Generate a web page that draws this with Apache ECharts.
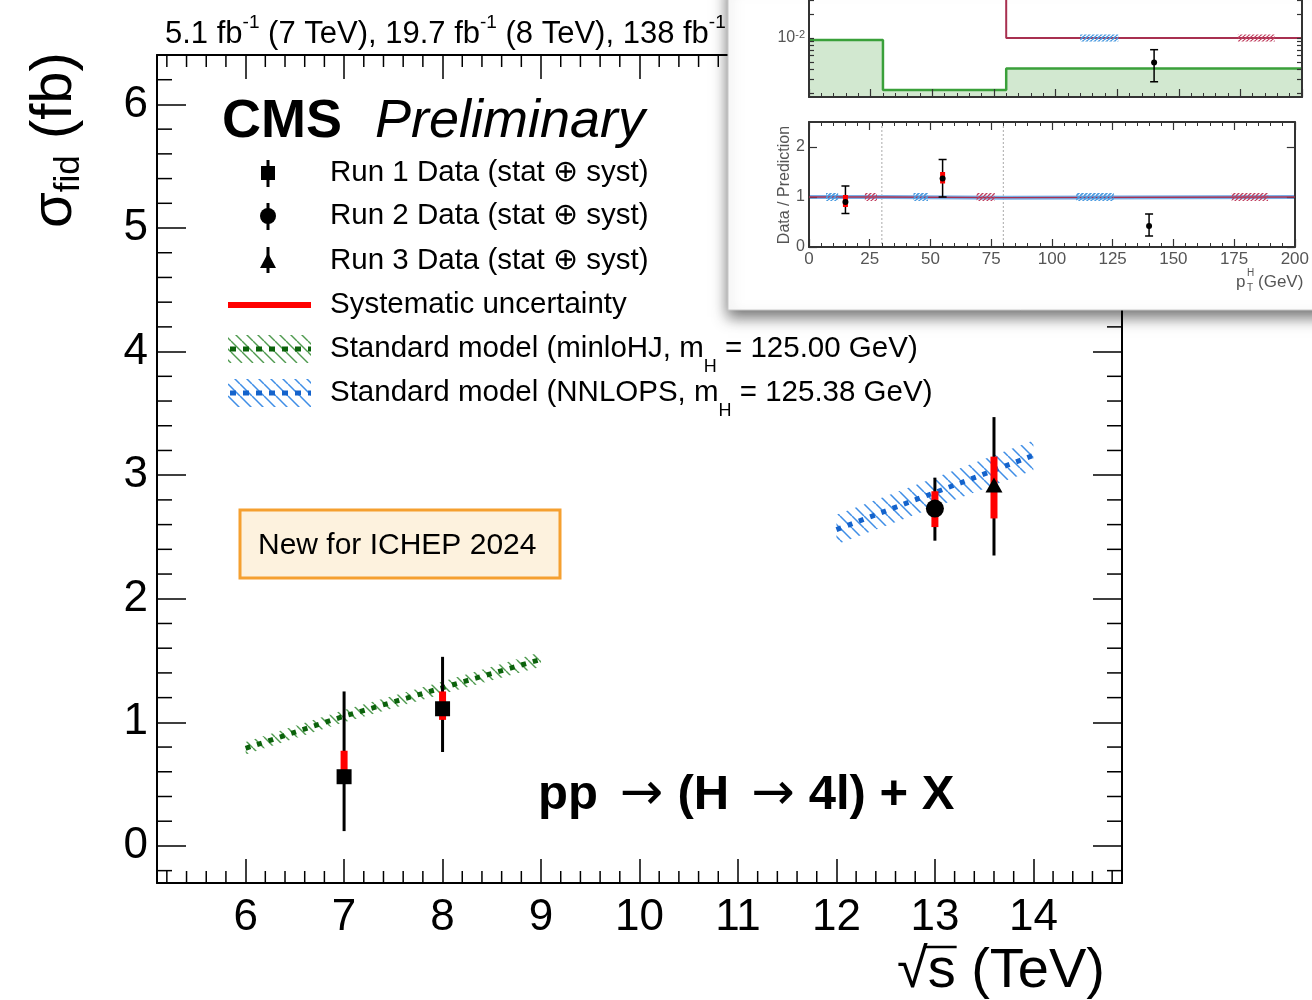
<!DOCTYPE html>
<html><head><meta charset="utf-8">
<script src="https://cdn.jsdelivr.net/npm/echarts@6/dist/echarts.min.js"></script>
<style>html,body{margin:0;padding:0;background:#fff}#c{width:1312px;height:1000px}</style>
</head><body><div id="c"></div>
<script>
// ---------------- data ----------------
const xTickValues = [6, 7, 8, 9, 10, 11, 12, 13, 14];
const yTickValues = [0, 1, 2, 3, 4, 5, 6];

const run1Energy = [7.0, 8.0];
const run1Xsec = [0.56, 1.11];
const run1TotLow = [0.12, 0.76];
const run1TotHigh = [1.25, 1.53];
const run1SysLow = [0.52, 1.02];
const run1SysHigh = [0.77, 1.25];

const run2Energy = [13.0];
const run2Xsec = [2.73];
const run2TotLow = [2.47];
const run2TotHigh = [2.98];
const run2SysLow = [2.58];
const run2SysHigh = [2.87];

const run3Energy = [13.6];
const run3Xsec = [2.92];
const run3TotLow = [2.35];
const run3TotHigh = [3.47];
const run3SysLow = [2.65];
const run3SysHigh = [3.15];

const minloEnergy = [6, 7, 8, 9];
const minloXsec = [0.79, 1.05, 1.28, 1.51];
const minloUnc = [0.05, 0.05, 0.05, 0.06];

const nnlopsEnergy = [12, 13, 14];
const nnlopsXsec = [2.56, 2.86, 3.16];
const nnlopsUnc = [0.12, 0.12, 0.12];

// inset (pT^H differential plot)
const insetBinEdges = [0, 30, 80, 200];
const insetPredGreen = [0.0094, 0.0022, 0.0041];
const insetPredRed = [0.05, 0.05, 0.0100];
const insetPtX = [140];
const insetPtY = [0.0049];
const insetPtLow = [0.0028];
const insetPtHigh = [0.0071];
const insetLogTicks = [0.002, 0.003, 0.004, 0.005, 0.006, 0.007, 0.008, 0.009, 0.01, 0.02, 0.03];
const ratioPtX = [15, 55, 140];
const ratioPtY = [0.90, 1.37, 0.42];
const ratioTotLow = [0.67, 1.00, 0.22];
const ratioTotHigh = [1.22, 1.75, 0.66];
const ratioSysLow = [0.80, 1.27, null];
const ratioSysHigh = [1.04, 1.50, null];
const ratioPred = [1.0, 0.986, 1.0];
const ratioYTicks = [0, 1, 2];
const blueHatchBins = [[7, 12], [43, 49], [110, 125.5]];
const redHatchBins = [[23, 28], [69, 76.5], [174, 189]];

// ---------------- helpers ----------------
const FONT = '"Liberation Sans", Arial, Helvetica, sans-serif';
const X_MIN = 5.1, X_MAX = 14.9, Y_MIN = -0.3, Y_MAX = 6.4;

function hatch(color, size, lw, dir) {
  const c = document.createElement('canvas');
  c.width = size; c.height = size;
  const g = c.getContext('2d');
  g.strokeStyle = color; g.lineWidth = lw;
  g.beginPath();
  for (let k = -1; k <= 1; k++) {
    if (dir === 'back') { g.moveTo(0, k * size); g.lineTo(size, size + k * size); }
    else { g.moveTo(0, size + k * size); g.lineTo(size, k * size); }
  }
  g.stroke();
  return { image: c, repeat: 'repeat' };
}
const greenHatch = hatch('#4f9a4f', 11, 1.4, 'back');
const blueHatch = hatch('#3f8ee6', 12, 1.5, 'back');
const insetBlueHatch = hatch('#4a9ae0', 4, 1.6, 'fwd');
const insetRedHatch = hatch('#c04060', 4, 1.4, 'fwd');

const minorX = [], minorY = [];
for (let i = 52; i <= 148; i += 2) if (i % 10 !== 0) minorX.push([i / 10, 0]);
for (let i = -2; i <= 64; i += 2) if (i % 10 !== 0) minorY.push([6, i / 10]);

function errorBars(xs, lo, hi, slo, shi, opts) {
  return {
    type: 'custom', xAxisIndex: opts.xi, yAxisIndex: opts.yi, z: opts.z, silent: true,
    data: xs.map((x, i) => [x, lo[i], hi[i], slo[i] == null ? NaN : slo[i], shi[i] == null ? NaN : shi[i]]),
    encode: { x: 0, y: [1, 2] },
    renderItem(params, api) {
      const x = api.value(0);
      const a = api.coord([x, api.value(1)]), b = api.coord([x, api.value(2)]);
      const ch = [{ type: 'line', shape: { x1: a[0], y1: a[1], x2: b[0], y2: b[1] }, style: { stroke: '#000', lineWidth: opts.w } }];
      if (opts.cap) {
        ch.push({ type: 'line', shape: { x1: a[0] - opts.cap, y1: a[1], x2: a[0] + opts.cap, y2: a[1] }, style: { stroke: '#000', lineWidth: opts.w } });
        ch.push({ type: 'line', shape: { x1: b[0] - opts.cap, y1: b[1], x2: b[0] + opts.cap, y2: b[1] }, style: { stroke: '#000', lineWidth: opts.w } });
      }
      const s1 = api.value(3), s2 = api.value(4);
      if (!isNaN(s1) && !isNaN(s2)) {
        const c = api.coord([x, s1]), d = api.coord([x, s2]);
        ch.push({ type: 'line', shape: { x1: c[0], y1: c[1], x2: d[0], y2: d[1] }, style: { stroke: '#ff0000', lineWidth: opts.sw } });
      }
      return { type: 'group', children: ch };
    }
  };
}

function band(xs, c, u, pattern) {
  return {
    type: 'custom', xAxisIndex: 0, yAxisIndex: 0, z: 3, silent: true,
    data: [[xs[0], c[0]]],
    renderItem(params, api) {
      const pts = [];
      xs.forEach((x, i) => pts.push(api.coord([x, c[i] + u[i]])));
      for (let i = xs.length - 1; i >= 0; i--) pts.push(api.coord([xs[i], c[i] - u[i]]));
      return { type: 'polygon', shape: { points: pts }, style: { fill: pattern } };
    }
  };
}

function stepData(edges, vals) {
  const d = [];
  vals.forEach((v, i) => { d.push([edges[i], v]); d.push([edges[i + 1], v]); });
  return d;
}

function hatchStrips(bins, yc, halfPx, pattern, xi, yi) {
  return {
    type: 'custom', xAxisIndex: xi, yAxisIndex: yi, z: 62, silent: true,
    data: bins.map(b => [b[0], b[1], yc]),
    renderItem(params, api) {
      const p0 = api.coord([api.value(0), api.value(2)]);
      const p1 = api.coord([api.value(1), api.value(2)]);
      return { type: 'rect', shape: { x: p0[0], y: p0[1] - halfPx, width: p1[0] - p0[0], height: 2 * halfPx }, style: { fill: pattern } };
    }
  };
}

// ---------------- axes ----------------
const mainAxisLine = { show: true, onZero: false, lineStyle: { color: '#000', width: 2 } };
const insetAxisLine = { show: true, onZero: false, lineStyle: { color: '#333', width: 2 } };
const mainTick = (len, vals) => ({ show: true, inside: true, length: len, customValues: vals, lineStyle: { color: '#000', width: 1.5 } });
const insetTick = { show: true, inside: true, length: 8, lineStyle: { color: '#333', width: 1.2 } };
const insetMinor = { show: true, splitNumber: 5, length: 4, lineStyle: { color: '#333', width: 1 } };
const xAxes = [
  { gridIndex: 0, type: 'value', min: X_MIN, max: X_MAX, position: 'bottom',
    axisLine: mainAxisLine, splitLine: { show: false }, axisTick: mainTick(24, xTickValues),
    axisLabel: { customValues: xTickValues, fontSize: 44, fontFamily: FONT, color: '#000', margin: 13 } },
  { gridIndex: 0, type: 'value', min: X_MIN, max: X_MAX, position: 'top',
    axisLine: mainAxisLine, splitLine: { show: false }, axisTick: mainTick(24, xTickValues),
    axisLabel: { show: false } },
  { gridIndex: 1, type: 'value', min: 0, max: 200, interval: 25, position: 'bottom', z: 60,
    axisLine: insetAxisLine, splitLine: { show: false }, axisTick: insetTick, minorTick: insetMinor,
    axisLabel: { show: false } },
  { gridIndex: 2, type: 'value', min: 0, max: 200, interval: 25, position: 'bottom', z: 60,
    axisLine: insetAxisLine, splitLine: { show: false }, axisTick: insetTick, minorTick: insetMinor,
    axisLabel: { fontSize: 17, fontFamily: FONT, color: '#555', margin: 4 } },
  { gridIndex: 2, type: 'value', min: 0, max: 200, interval: 25, position: 'top', z: 60,
    axisLine: insetAxisLine, splitLine: { show: false }, axisTick: insetTick, minorTick: insetMinor,
    axisLabel: { show: false } }
];
const yAxes = [
  { gridIndex: 0, type: 'value', min: Y_MIN, max: Y_MAX, position: 'left',
    axisLine: mainAxisLine, splitLine: { show: false }, axisTick: mainTick(29, yTickValues),
    axisLabel: { customValues: yTickValues, fontSize: 44, fontFamily: FONT, color: '#000', margin: 9 } },
  { gridIndex: 0, type: 'value', min: Y_MIN, max: Y_MAX, position: 'right',
    axisLine: mainAxisLine, splitLine: { show: false }, axisTick: mainTick(29, yTickValues),
    axisLabel: { show: false } },
  { gridIndex: 1, type: 'log', min: 0.0018, max: 0.03, position: 'left', z: 60,
    axisLine: insetAxisLine, splitLine: { show: false },
    axisTick: { show: true, inside: true, length: 5, customValues: insetLogTicks, lineStyle: { color: '#333', width: 1.2 } },
    axisLabel: { customValues: [0.01], formatter: () => '10{s|-2}', fontSize: 16, fontFamily: FONT, color: '#555', margin: 4,
      rich: { s: { fontSize: 11, verticalAlign: 'top', lineHeight: 10, fontFamily: FONT, color: '#555' } } } },
  { gridIndex: 1, type: 'log', min: 0.0018, max: 0.03, position: 'right', z: 60,
    axisLine: insetAxisLine, splitLine: { show: false },
    axisTick: { show: true, inside: true, length: 5, customValues: insetLogTicks, lineStyle: { color: '#333', width: 1.2 } },
    axisLabel: { show: false } },
  { gridIndex: 2, type: 'value', min: 0, max: 2.5, interval: 1, position: 'left', z: 60,
    axisLine: insetAxisLine, splitLine: { show: false },
    axisTick: { show: true, inside: true, length: 8, customValues: ratioYTicks, lineStyle: { color: '#333', width: 1.2 } },
    axisLabel: { customValues: ratioYTicks, fontSize: 16, fontFamily: FONT, color: '#555', margin: 4 } },
  { gridIndex: 2, type: 'value', min: 0, max: 2.5, interval: 1, position: 'right', z: 60,
    axisLine: insetAxisLine, splitLine: { show: false },
    axisTick: { show: true, inside: true, length: 8, customValues: ratioYTicks, lineStyle: { color: '#333', width: 1.2 } },
    axisLabel: { show: false } }
];

// ---------------- series ----------------
const solid = (c) => ({ color: c, opacity: 1 });
const series = [
  { type: 'custom', xAxisIndex: 0, yAxisIndex: 0, z: 1, silent: true, data: minorX,
    renderItem(params, api) {
      const cs = params.coordSys; const x = api.coord([api.value(0), 0])[0];
      const st = { stroke: '#000', lineWidth: 1.5 };
      return { type: 'group', children: [
        { type: 'line', shape: { x1: x, y1: cs.y + cs.height, x2: x, y2: cs.y + cs.height - 12 }, style: st },
        { type: 'line', shape: { x1: x, y1: cs.y, x2: x, y2: cs.y + 12 }, style: st }] };
    } },
  { type: 'custom', xAxisIndex: 0, yAxisIndex: 0, z: 1, silent: true, data: minorY,
    renderItem(params, api) {
      const cs = params.coordSys; const y = api.coord([6, api.value(1)])[1];
      const st = { stroke: '#000', lineWidth: 1.5 };
      return { type: 'group', children: [
        { type: 'line', shape: { x1: cs.x, y1: y, x2: cs.x + 15, y2: y }, style: st },
        { type: 'line', shape: { x1: cs.x + cs.width, y1: y, x2: cs.x + cs.width - 15, y2: y }, style: st }] };
    } },
  band(minloEnergy, minloXsec, minloUnc, greenHatch),
  band(nnlopsEnergy, nnlopsXsec, nnlopsUnc, blueHatch),
  { type: 'line', xAxisIndex: 0, yAxisIndex: 0, z: 4, silent: true, symbol: 'none',
    data: minloEnergy.map((x, i) => [x, minloXsec[i]]), lineStyle: { color: '#0b620b', width: 5, type: [5, 7] } },
  { type: 'line', xAxisIndex: 0, yAxisIndex: 0, z: 4, silent: true, symbol: 'none',
    data: nnlopsEnergy.map((x, i) => [x, nnlopsXsec[i]]), lineStyle: { color: '#1463cc', width: 5, type: [5, 7] } },
  errorBars(run1Energy, run1TotLow, run1TotHigh, run1SysLow, run1SysHigh, { xi: 0, yi: 0, z: 5, w: 3, sw: 7 }),
  errorBars(run2Energy, run2TotLow, run2TotHigh, run2SysLow, run2SysHigh, { xi: 0, yi: 0, z: 5, w: 3, sw: 7 }),
  errorBars(run3Energy, run3TotLow, run3TotHigh, run3SysLow, run3SysHigh, { xi: 0, yi: 0, z: 5, w: 3, sw: 7 }),
  { type: 'scatter', xAxisIndex: 0, yAxisIndex: 0, z: 6, symbol: 'rect', symbolSize: 15, itemStyle: solid('#000'),
    data: run1Energy.map((x, i) => [x, run1Xsec[i]]) },
  { type: 'scatter', xAxisIndex: 0, yAxisIndex: 0, z: 6, symbol: 'circle', symbolSize: 18, itemStyle: solid('#000'),
    data: run2Energy.map((x, i) => [x, run2Xsec[i]]) },
  { type: 'scatter', xAxisIndex: 0, yAxisIndex: 0, z: 6, symbol: 'triangle', symbolSize: [17, 15], itemStyle: solid('#000'),
    data: run3Energy.map((x, i) => [x, run3Xsec[i]]) },

  // ---- inset upper panel ----
  { type: 'custom', xAxisIndex: 2, yAxisIndex: 2, z: 58, silent: true,
    data: insetPredGreen.map((v, i) => [insetBinEdges[i], insetBinEdges[i + 1], v]),
    renderItem(params, api) {
      const cs = params.coordSys;
      const p0 = api.coord([api.value(0), api.value(2)]), p1 = api.coord([api.value(1), api.value(2)]);
      return { type: 'rect', shape: { x: p0[0], y: p0[1], width: p1[0] - p0[0], height: cs.y + cs.height - p0[1] }, style: { fill: '#d2e8d0' } };
    } },
  { type: 'line', xAxisIndex: 2, yAxisIndex: 2, z: 59, silent: true, symbol: 'none',
    data: stepData(insetBinEdges, insetPredGreen), lineStyle: { color: '#3aa03a', width: 2.5 } },
  { type: 'line', xAxisIndex: 2, yAxisIndex: 2, z: 59, silent: true, symbol: 'none',
    data: stepData(insetBinEdges, insetPredRed), lineStyle: { color: '#a83050', width: 2 } },
  hatchStrips([blueHatchBins[2]], insetPredRed[2], 3.5, insetBlueHatch, 2, 2),
  hatchStrips([redHatchBins[2]], insetPredRed[2], 3.5, insetRedHatch, 2, 2),
  errorBars(insetPtX, insetPtLow, insetPtHigh, [null], [null], { xi: 2, yi: 2, z: 63, w: 1.5, sw: 4, cap: 4 }),
  { type: 'scatter', xAxisIndex: 2, yAxisIndex: 2, z: 64, symbol: 'circle', symbolSize: 6, itemStyle: solid('#000'),
    data: insetPtX.map((x, i) => [x, insetPtY[i]]) },

  // ---- inset ratio panel ----
  { type: 'line', xAxisIndex: 3, yAxisIndex: 4, z: 59, silent: true, symbol: 'none',
    data: stepData(insetBinEdges, ratioPred), lineStyle: { color: '#79aee6', width: 4 } },
  { type: 'line', xAxisIndex: 3, yAxisIndex: 4, z: 60, silent: true, symbol: 'none',
    data: stepData(insetBinEdges, ratioPred), lineStyle: { color: '#a83050', width: 1.3 } },
  { type: 'custom', xAxisIndex: 3, yAxisIndex: 4, z: 58, silent: true,
    data: [[insetBinEdges[1], 0], [insetBinEdges[2], 0]],
    renderItem(params, api) {
      const cs = params.coordSys; const x = api.coord([api.value(0), 0])[0];
      return { type: 'line', shape: { x1: x, y1: cs.y, x2: x, y2: cs.y + cs.height }, style: { stroke: '#aaa', lineWidth: 1, lineDash: [2, 2] } };
    } },
  hatchStrips(blueHatchBins, 1.0, 4, insetBlueHatch, 3, 4),
  hatchStrips(redHatchBins, 1.0, 4, insetRedHatch, 3, 4),
  errorBars(ratioPtX, ratioTotLow, ratioTotHigh, ratioSysLow, ratioSysHigh, { xi: 3, yi: 4, z: 63, w: 1.5, sw: 5, cap: 4 }),
  { type: 'scatter', xAxisIndex: 3, yAxisIndex: 4, z: 64, symbol: 'circle', symbolSize: 6, itemStyle: solid('#000'),
    data: ratioPtX.map((x, i) => [x, ratioPtY[i]]) }
];

// ---------------- annotations ----------------
const txt = (x, y, text, font, extra) => Object.assign({ type: 'text', x, y, z: 10,
  style: Object.assign({ text, font, fill: '#000', textAlign: 'left', textVerticalAlign: 'middle', verticalAlign: 'middle' }, extra || {}) });
const F29 = '29.5px ' + FONT;
const legendRows = [173, 216, 261, 305, 349, 393];
const subRich = {
  n: { fontSize: 29.5, lineHeight: 30, verticalAlign: 'top', fontFamily: FONT, color: '#000' },
  h: { fontSize: 18, lineHeight: 18, verticalAlign: 'top', padding: [24, 0, 0, 0], fontFamily: FONT, color: '#000' }
};
const supRich = {
  n: { fontSize: 31, lineHeight: 37, verticalAlign: 'bottom', fontFamily: FONT, color: '#111' },
  s: { fontSize: 19, lineHeight: 19, verticalAlign: 'top', fontFamily: FONT, color: '#111' }
};

// overline for the square root in the x-axis title
const meas = document.createElement('canvas').getContext('2d');
const XT_FONT = '56px ' + FONT;
meas.font = XT_FONT;
const xtW = meas.measureText('\u221As (TeV)').width;
const rootW = meas.measureText('\u221A').width;
const sW = meas.measureText('s').width;
const xtRight = 1105, xtY = 972;
const xtStart = xtRight - xtW;

const graphics = [
  { type: 'text', x: 165, y: 13, z: 5, style: { text: '{n|5.1 fb}{s|-1}{n| (7 TeV), 19.7 fb}{s|-1}{n| (8 TeV), 138 fb}{s|-1}',
      rich: supRich, textAlign: 'left', textVerticalAlign: 'top', verticalAlign: 'top' } },
  txt(222, 122, 'CMS', 'bold 54px ' + FONT),
  txt(375, 122, 'Preliminary', 'italic 54px ' + FONT),
  // legend markers
  { type: 'line', z: 10, shape: { x1: 268, y1: 160, x2: 268, y2: 187 }, style: { stroke: '#000', lineWidth: 3 } },
  { type: 'rect', z: 10, shape: { x: 261, y: 166, width: 14, height: 14 }, style: { fill: '#000' } },
  { type: 'line', z: 10, shape: { x1: 268, y1: 203, x2: 268, y2: 230 }, style: { stroke: '#000', lineWidth: 3 } },
  { type: 'circle', z: 10, shape: { cx: 268, cy: 216, r: 8 }, style: { fill: '#000' } },
  { type: 'line', z: 10, shape: { x1: 268, y1: 247, x2: 268, y2: 273 }, style: { stroke: '#000', lineWidth: 3 } },
  { type: 'polygon', z: 10, shape: { points: [[268, 253], [260, 268], [276, 268]] }, style: { fill: '#000' } },
  { type: 'line', z: 10, shape: { x1: 228, y1: 305, x2: 311, y2: 305 }, style: { stroke: '#ff0000', lineWidth: 6 } },
  { type: 'rect', z: 10, shape: { x: 228, y: 335, width: 83, height: 28 }, style: { fill: greenHatch } },
  { type: 'line', z: 11, shape: { x1: 230, y1: 349, x2: 311, y2: 349 }, style: { stroke: '#0b620b', lineWidth: 5, lineDash: [6, 7] } },
  { type: 'rect', z: 10, shape: { x: 228, y: 379, width: 83, height: 28 }, style: { fill: blueHatch } },
  { type: 'line', z: 11, shape: { x1: 230, y1: 393, x2: 311, y2: 393 }, style: { stroke: '#1463cc', lineWidth: 5, lineDash: [6, 7] } },
  txt(330, legendRows[0], 'Run 1 Data (stat \u2295 syst)', F29),
  txt(330, legendRows[1], 'Run 2 Data (stat \u2295 syst)', F29),
  txt(330, legendRows[2], 'Run 3 Data (stat \u2295 syst)', F29),
  txt(330, legendRows[3], 'Systematic uncertainty', F29),
  { type: 'text', x: 330, y: legendRows[4] - 15, z: 10, style: { text: '{n|Standard model (minloHJ, m}{h|H}{n| = 125.00 GeV)}', rich: subRich, textAlign: 'left', textVerticalAlign: 'top', verticalAlign: 'top' } },
  { type: 'text', x: 330, y: legendRows[5] - 15, z: 10, style: { text: '{n|Standard model (NNLOPS, m}{h|H}{n| = 125.38 GeV)}', rich: subRich, textAlign: 'left', textVerticalAlign: 'top', verticalAlign: 'top' } },
  // ICHEP box
  { type: 'rect', z: 10, shape: { x: 240, y: 510, width: 320, height: 68 }, style: { fill: '#fdf2de', stroke: '#f5a030', lineWidth: 3 } },
  txt(258, 546, 'New for ICHEP 2024', '30px ' + FONT),
  // process label
  { type: 'text', x: 538, y: 795, z: 10, style: { text: '{b|pp}{a|\u2192}{b|(H}{a|\u2192}{b|4l) + X}', textAlign: 'left', textVerticalAlign: 'middle', verticalAlign: 'middle',
      rich: { b: { fontSize: 49, fontWeight: 'bold', fontFamily: FONT, color: '#000' },
              a: { fontSize: 52, fontFamily: '"DejaVu Sans", sans-serif', color: '#000', padding: [0, 14, 0, 22] } } } },
  // axis titles
  { type: 'text', x: 55, y: 140, rotation: Math.PI / 2, z: 10, style: { text: '{m|\u03c3}{s|fid}{m| (fb)}', textAlign: 'center', textVerticalAlign: 'middle', verticalAlign: 'middle',
      rich: { m: { fontSize: 58, lineHeight: 64, verticalAlign: 'middle', fontFamily: FONT, color: '#000' }, s: { fontSize: 35, lineHeight: 35, verticalAlign: 'bottom', fontFamily: FONT, color: '#000' } } } },
  txt(xtRight, xtY, '\u221As (TeV)', XT_FONT, { textAlign: 'right' }),
  { type: 'line', z: 10, shape: { x1: xtStart + rootW - 2, y1: xtY - 25, x2: xtStart + rootW + sW + 1, y2: xtY - 25 }, style: { stroke: '#000', lineWidth: 2.5 } },

  // ---- inset card ----
  { type: 'rect', z: 50, shape: { x: 728, y: -20, width: 600, height: 330 },
    style: { fill: '#fff', stroke: '#c8c8c8', lineWidth: 1, shadowBlur: 14, shadowOffsetY: 7, shadowColor: 'rgba(0,0,0,0.55)' } },
  { type: 'text', x: 785, y: 185, rotation: Math.PI / 2, z: 65, style: { text: 'Data / Prediction', font: '16px ' + FONT, fill: '#555', textAlign: 'center', textVerticalAlign: 'middle', verticalAlign: 'middle' } },
  { type: 'text', x: 1236, y: 282, z: 65, style: { text: 'p', font: '17px ' + FONT, fill: '#555', textAlign: 'left', textVerticalAlign: 'middle', verticalAlign: 'middle' } },
  { type: 'text', x: 1247, y: 273, z: 65, style: { text: 'H', font: '10px ' + FONT, fill: '#555', textAlign: 'left', textVerticalAlign: 'middle', verticalAlign: 'middle' } },
  { type: 'text', x: 1247, y: 288, z: 65, style: { text: 'T', font: '10px ' + FONT, fill: '#555', textAlign: 'left', textVerticalAlign: 'middle', verticalAlign: 'middle' } },
  { type: 'text', x: 1258, y: 282, z: 65, style: { text: '(GeV)', font: '17px ' + FONT, fill: '#555', textAlign: 'left', textVerticalAlign: 'middle', verticalAlign: 'middle' } }
];

const chart = echarts.init(document.getElementById('c'), null, { renderer: 'canvas' });
chart.setOption({
  animation: false,
  backgroundColor: '#fff',
  textStyle: { fontFamily: FONT },
  grid: [
    { left: 157, top: 55, width: 965, height: 828 },
    { left: 809, top: 0, width: 493, height: 97, z: 60 },
    { left: 809, top: 122, width: 493, height: 125, z: 60 }
  ],
  xAxis: xAxes,
  yAxis: yAxes,
  series: series,
  graphic: { elements: graphics }
});
</script>
</body></html>
